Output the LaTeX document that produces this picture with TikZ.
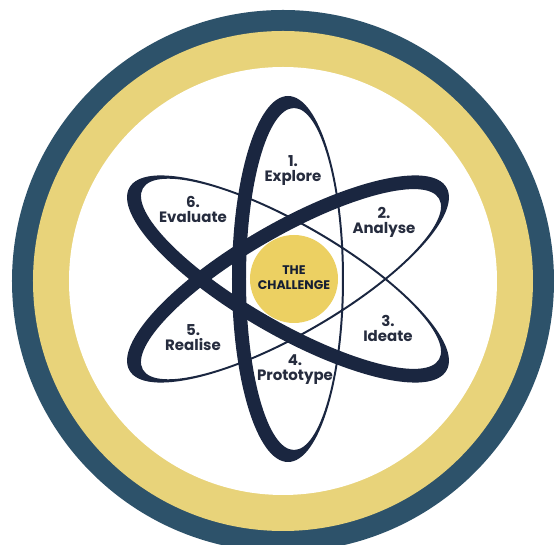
\documentclass[tikz,border=0pt]{standalone}
\usepackage{fontspec}
\setmainfont{Poppins}
\definecolor{ringblue}{RGB}{45,82,106}
\definecolor{ringgold}{RGB}{232,211,122}
\definecolor{atomnavy}{RGB}{26,38,64}
\definecolor{coregold}{RGB}{236,208,98}
\definecolor{labelink}{RGB}{38,44,62}
\tikzset{
  orbit/.style={fill=atomnavy, even odd rule},
  step label/.style={text=labelink, align=center, inner sep=1pt, font=\bfseries\fontsize{15}{15}\selectfont},
}

\begin{document}
\begin{tikzpicture}[x=1pt, y=1pt]
    \useasboundingbox (-283,-264) rectangle (272,281);
    \fill[ringblue] (0,0) circle (271);
    \fill[ringgold] (0,0) circle (250);
    \fill[white] (0,0) circle (214);
    % three orbits, thick on one side
    \foreach \a in {30,90,150}
        \fill[orbit, shift={(5,2)}, rotate=\a]
            (0,0) ellipse [x radius=183, y radius=56]
            (0,-6) ellipse [x radius=171, y radius=48];
    \fill[coregold] (11,2) circle (44);
    \node[step label, text=atomnavy!80!black, font=\bfseries\fontsize{12.5}{15}\selectfont] (core) at (11,3) {THE\\CHALLENGE};
    \node[step label] (explore)   at (10,110)  {1.\\Explore};
    \node[step label] (analyse)   at (101,59)  {2.\\Analyse};
    \node[step label] (ideate)    at (105,-47) {3.\\Ideate};
    \node[step label] (prototype) at (12,-89)  {4.\\Prototype};
    \node[step label] (realise)   at (-90,-57) {5.\\Realise};
    \node[step label] (evaluate)  at (-90,72)  {6.\\Evaluate};
\end{tikzpicture}
\end{document}
